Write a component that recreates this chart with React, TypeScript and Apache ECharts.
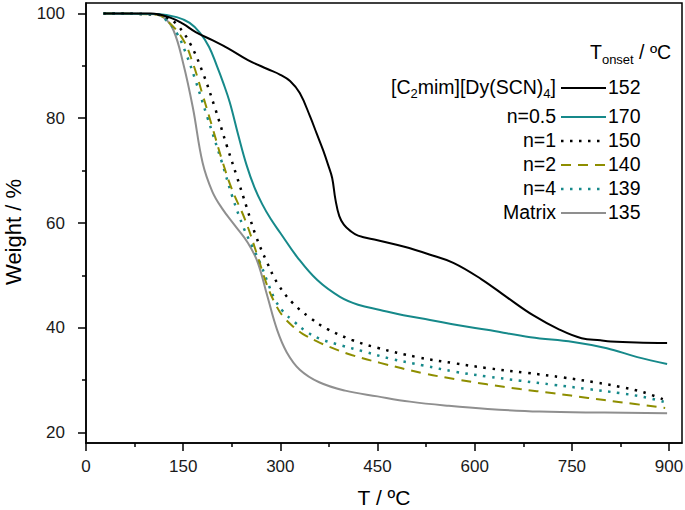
import React, { useEffect, useRef } from "react";
import * as echarts from "echarts";

const xTicks = [0, 150, 300, 450, 600, 750, 900];
const xMinorTicks = [75, 225, 375, 525, 675, 825];
const yTicks = [20, 40, 60, 80, 100];
const yMinorTicks = [30, 50, 70, 90];

const seriesNames = ["[C2mim][Dy(SCN)4]", "n=0.5", "n=1", "n=2", "n=4", "Matrix"];
const legendLabels = ["[C{s|2}mim][Dy(SCN){s|4}]", "n=0.5", "n=1", "n=2", "n=4", "Matrix"];
const onsetValues = [152, 170, 150, 140, 139, 135];

const ilT = [27, 100, 130, 150, 170, 195, 220, 250, 280, 300, 315, 330, 346, 356, 366, 374, 380, 385, 391, 398, 408, 420, 450, 490, 530, 567, 610, 650, 690, 730, 765, 794, 810, 850, 897];
const ilW = [100, 100, 99.2, 98, 96.4, 94.9, 93.3, 91.1, 89.4, 88.3, 87.1, 84.8, 80.3, 77.1, 73.9, 71, 68.6, 64.5, 61.3, 59.7, 58.5, 57.6, 56.7, 55.5, 54, 52.4, 49.3, 45.8, 42.4, 39.7, 38, 37.6, 37.4, 37.2, 37.1];

const n05T = [27, 110, 140, 160, 176, 190, 202, 212, 222, 235, 248, 260, 272, 285, 300, 326, 357, 392, 420, 454, 490, 531, 575, 619, 686, 752, 804, 851, 897];
const n05W = [100, 99.9, 99.3, 98.2, 96.3, 93.6, 90, 86.7, 83, 76.8, 71, 66.8, 63.6, 60.8, 58.1, 53.5, 49.1, 45.9, 44.4, 43.4, 42.4, 41.5, 40.5, 39.6, 38.2, 37.3, 36.1, 34.4, 33.1];

const n1T = [27, 110, 125, 141, 161, 180, 199, 218, 233, 248, 262, 279, 297, 320, 346, 372, 410, 449, 511, 570, 619, 680, 737, 785, 825, 860, 894];
const n1W = [100, 99.8, 99.2, 97.8, 94.2, 88.8, 82, 74.5, 68.8, 63, 57.6, 52.6, 48.2, 44.6, 41.9, 39.8, 37.7, 36.2, 34.4, 33.2, 32.3, 31.4, 30.5, 29.6, 28.7, 27.7, 26.2];

const n2T = [27, 110, 127, 150, 165, 180, 195, 210, 225, 246, 264, 279, 292, 304, 320, 335, 355, 377, 410, 454, 521, 570, 619, 670, 722, 775, 825, 894];
const n2W = [100, 99.8, 98.4, 95, 90.5, 84.5, 78.3, 72, 66.5, 60.5, 54, 48.3, 44.6, 42.2, 40.2, 38.8, 37.5, 36.3, 34.8, 33.3, 31.3, 30.2, 29.2, 28.3, 27.5, 26.6, 25.8, 24.7];

const n4T = [27, 110, 127, 140, 153, 168, 187, 210, 226, 243, 256, 269, 280, 292, 305, 320, 340, 361, 395, 428, 470, 521, 570, 619, 670, 722, 775, 825, 860, 894];
const n4W = [100, 99.8, 98.3, 96.3, 92.8, 87.6, 80.3, 71.5, 65, 59.2, 55.7, 52.3, 48.8, 45.3, 43, 41.3, 39.3, 37.9, 36.6, 35.5, 34.1, 32.8, 31.6, 30.7, 29.9, 29.1, 28.3, 27.5, 26.8, 25.8];

const matT = [27, 100, 120, 135, 150, 165, 180, 195, 210, 230, 250, 265, 280, 295, 310, 330, 360, 400, 450, 500, 560, 620, 700, 800, 897];
const matW = [100, 99.9, 99.2, 96.8, 90.5, 82, 71.5, 66, 62.8, 59.5, 56.2, 52.5, 46, 39.6, 35.3, 32, 29.6, 28, 26.9, 25.9, 25.1, 24.5, 24, 23.8, 23.7];

const seriesT = [ilT, n05T, n1T, n2T, n4T, matT];
const seriesW = [ilW, n05W, n1W, n2W, n4W, matW];

const colors = ["#000000", "#16898a", "#000000", "#8e8e00", "#16898a", "#8f8f8f"];
const dashes: (string | number[])[] = ["solid", "solid", [2.5, 6.5], [10, 7], [2.5, 6.5], "solid"];

const FONT = "'Liberation Sans', Arial, sans-serif";
const LEG = 19.5;

export default function App() {
  const ref = useRef<HTMLDivElement>(null);
  useEffect(() => {
    if (!ref.current) return;
    const chart = echarts.init(ref.current, undefined, { renderer: "svg" });

    const series = seriesNames.map((name, i) => ({
      name,
      type: "line",
      data: seriesT[i].map((t, j) => [t, seriesW[i][j]]),
      showSymbol: false,
      smooth: 0.4,
      lineStyle: {
        color: colors[i],
        width: i === 2 || i === 4 ? 2.5 : 2,
        type: dashes[i],
      },
      z: 10 - i,
    }));

    const rowY = [87, 116, 140, 164, 188, 212];
    const graphics: any[] = [
      {
        type: "text",
        x: 590,
        y: 52,
        style: {
          text: "T{s|onset} / ºC",
          font: `${LEG}px ${FONT}`,
          fill: "#000",
          textAlign: "left",
          textVerticalAlign: "middle",
          rich: { s: { fontSize: 13, fontFamily: FONT, padding: [15, 0, 0, 0] } },
        },
      },
    ];
    legendLabels.forEach((lab, i) => {
      graphics.push({
        type: "text",
        x: 556,
        y: rowY[i],
        style: {
          text: lab,
          font: `${LEG}px ${FONT}`,
          fill: "#000",
          textAlign: "right",
          textVerticalAlign: "middle",
          rich: { s: { fontSize: 13, fontFamily: FONT, padding: [12, 0, 0, 0] } },
        },
      });
      graphics.push({
        type: "line",
        shape: { x1: 561, y1: rowY[i] + 1, x2: 606, y2: rowY[i] + 1 },
        style: {
          stroke: colors[i],
          lineWidth: i === 2 || i === 4 ? 2.5 : 2,
          lineDash: Array.isArray(dashes[i]) ? dashes[i] : null,
        },
      });
      graphics.push({
        type: "text",
        x: 608,
        y: rowY[i],
        style: {
          text: String(onsetValues[i]),
          font: `${LEG}px ${FONT}`,
          fill: "#000",
          textAlign: "left",
          textVerticalAlign: "middle",
        },
      });
    });

    chart.setOption({
      animation: false,
      backgroundColor: "#ffffff",
      grid: {
        left: 86,
        right: 3,
        top: 3,
        bottom: 67,
        show: true,
        borderColor: "#000",
        borderWidth: 1.5,
        containLabel: false,
        outerBoundsMode: "none",
      },
      xAxis: [
        {
          type: "value",
          min: 0,
          max: 920,
          name: "T / ºC",
          nameLocation: "middle",
          nameGap: 44,
          nameTextStyle: { fontSize: 21, fontFamily: FONT, color: "#000" },
          splitLine: { show: false },
          axisLine: { show: true, lineStyle: { color: "#000", width: 1.5 } },
          axisTick: { show: true, customValues: xTicks, length: 8, lineStyle: { color: "#000", width: 1.5 } },
          axisLabel: { customValues: xTicks, fontSize: 17, fontFamily: FONT, color: "#1a1a1a", margin: 15 },
        },
        {
          type: "value",
          min: 0,
          max: 920,
          position: "bottom",
          splitLine: { show: false },
          axisLine: { show: false },
          axisTick: { show: true, customValues: xMinorTicks, length: 4, lineStyle: { color: "#000", width: 1.5 } },
          axisLabel: { show: false },
        },
      ],
      yAxis: [
        {
          type: "value",
          min: 18,
          max: 102,
          name: "Weight / %",
          nameLocation: "middle",
          nameGap: 62,
          nameTextStyle: { fontSize: 22, fontFamily: FONT, color: "#000", padding: [0, 18, 0, 0] },
          splitLine: { show: false },
          axisLine: { show: true, lineStyle: { color: "#000", width: 1.5 } },
          axisTick: { show: true, customValues: yTicks, length: 8, lineStyle: { color: "#000", width: 1.5 } },
          axisLabel: { customValues: yTicks, fontSize: 17, fontFamily: FONT, color: "#1a1a1a", margin: 21 },
        },
        {
          type: "value",
          min: 18,
          max: 102,
          position: "left",
          splitLine: { show: false },
          axisLine: { show: false },
          axisTick: { show: true, customValues: yMinorTicks, length: 4, lineStyle: { color: "#000", width: 1.5 } },
          axisLabel: { show: false },
        },
      ],
      graphic: graphics,
      series,
    });
    return () => chart.dispose();
  }, []);
  return <div ref={ref} style={{ width: 685, height: 510, position: "absolute", left: 0, top: 0 }} />;
}
